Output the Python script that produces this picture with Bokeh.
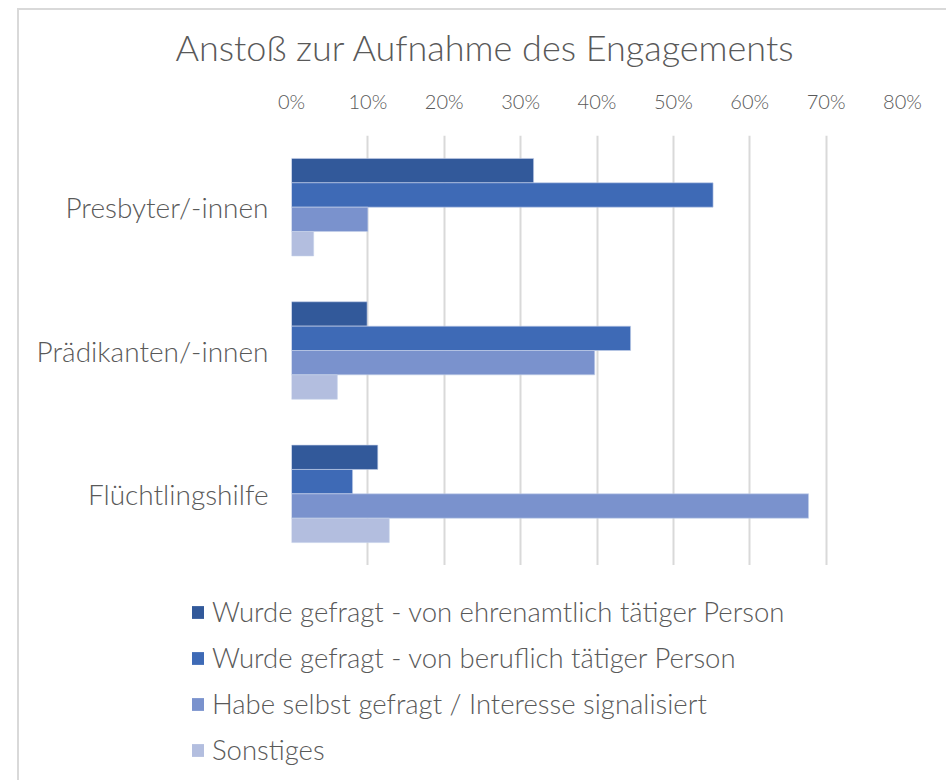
from bokeh.plotting import figure
from bokeh.layouts import column
from bokeh.models import (FactorRange, Legend, LegendItem, FixedTicker, NumeralTickFormatter,
                          Title, InlineStyleSheet)
from bokeh.transform import dodge
from bokeh.embed import file_html
from bokeh.resources import INLINE

categories = ["Presbyter/-innen", "Prädikanten/-innen", "Flüchtlingshilfe"]
series_names = [
    "Wurde gefragt - von ehrenamtlich tätiger Person",
    "Wurde gefragt - von beruflich tätiger Person",
    "Habe selbst gefragt / Interesse signalisiert",
    "Sonstiges",
]
ehrenamtlich = [0.317, 0.099, 0.113]
beruflich = [0.552, 0.444, 0.080]
selbst = [0.100, 0.397, 0.677]
sonstiges = [0.029, 0.060, 0.128]
x_ticks = [0, 0.1, 0.2, 0.3, 0.4, 0.5, 0.6, 0.7, 0.8]

colors = ["#32599a", "#3e6ab6", "#7a92cd", "#b3bedf"]
values = [ehrenamtlich, beruflich, selbst, sonstiges]

FONT = "Lato Light, Lato"
TXT = "#595959"
W = 946

p = figure(width=W, height=565, output_backend="svg", toolbar_location=None,
           y_range=FactorRange(*reversed(categories), range_padding=0),
           x_range=(0, 0.8), x_axis_location="above",
           min_border_left=291, min_border_right=44, min_border_top=135,
           min_border_bottom=0)
p.frame_align = False
p.y_range.factor_padding = 0
p.outline_line_color = None
p.background_fill_color = "white"
p.border_fill_color = None
p.stylesheets = [InlineStyleSheet(css="""
:host {
  background-color: white;
  background-image: linear-gradient(#d9d9d9, #d9d9d9), linear-gradient(#d9d9d9, #d9d9d9);
  background-repeat: no-repeat;
  background-size: 2px calc(100% - 8px), calc(100% - 17px) 2px;
  background-position: 17px 8px, 17px 8px;
}
""")]

h = 0.170
for i, (vals, col) in enumerate(zip(values, colors)):
    src = {"cat": categories, "val": vals}
    p.hbar(y=dodge("cat", (1.5 - i) * h, range=p.y_range), right="val", left=0,
           height=h, source=src, fill_color=col, line_color="#c5d0ea",
           line_width=1, line_alpha=0.6)

xa = p.xaxis[0]
xa.ticker = FixedTicker(ticks=x_ticks)
xa.formatter = NumeralTickFormatter(format="0%")
xa.axis_line_color = None
xa.major_tick_line_color = None
xa.minor_tick_line_color = None
xa.major_label_text_font = FONT
xa.major_label_text_font_size = "20px"
xa.major_label_text_color = TXT
xa.major_label_standoff = 17

ya = p.yaxis[0]
ya.axis_line_color = None
ya.major_tick_line_color = None
ya.minor_tick_line_color = None
ya.major_label_text_font = FONT
ya.major_label_text_font_size = "28px"
ya.major_label_text_color = TXT
ya.major_label_standoff = 17

p.xgrid.grid_line_color = "#d9d9d9"
p.xgrid.grid_line_width = 2
p.ygrid.grid_line_color = None

title = Title(text="Anstoß zur Aufnahme des Engagements", align="left", offset=-116,
              text_font=FONT, text_font_size="36px", text_font_style="normal",
              text_color=TXT, standoff=33)
p.add_layout(title, "above")

# legend figure below the chart
lg = figure(width=W, height=215, output_backend="svg", toolbar_location=None,
            x_range=(0, 1), y_range=(0, 1), x_axis_type=None, y_axis_type=None,
            min_border=0)
lg.frame_align = False
lg.outline_line_color = None
lg.grid.visible = False
lg.background_fill_color = None
lg.border_fill_color = None
lg.stylesheets = [InlineStyleSheet(css="""
:host {
  background-color: white;
  background-image: linear-gradient(#d9d9d9, #d9d9d9);
  background-repeat: no-repeat;
  background-size: 2px 100%;
  background-position: 17px 0px;
}
""")]
items = []
for vals, col, name in zip(values, colors, series_names):
    src = {"cat": categories, "val": vals}
    r = lg.hbar(y=-10, right="val", left=0, height=0.1, source=src, fill_color=col,
                line_color=None)
    items.append(LegendItem(label=name, renderers=[r]))

legend = Legend(items=items, location=(190, 14), orientation="vertical",
                label_text_font=FONT, label_text_font_size="27.5px", label_text_color=TXT,
                glyph_width=15, glyph_height=16, label_standoff=7, label_height=30,
                spacing=13, padding=0, margin=0, border_line_alpha=0,
                background_fill_alpha=0)
lg.add_layout(legend, "center")

layout = column(p, lg, spacing=0)
open("out.html", "w").write(file_html(layout, INLINE))
